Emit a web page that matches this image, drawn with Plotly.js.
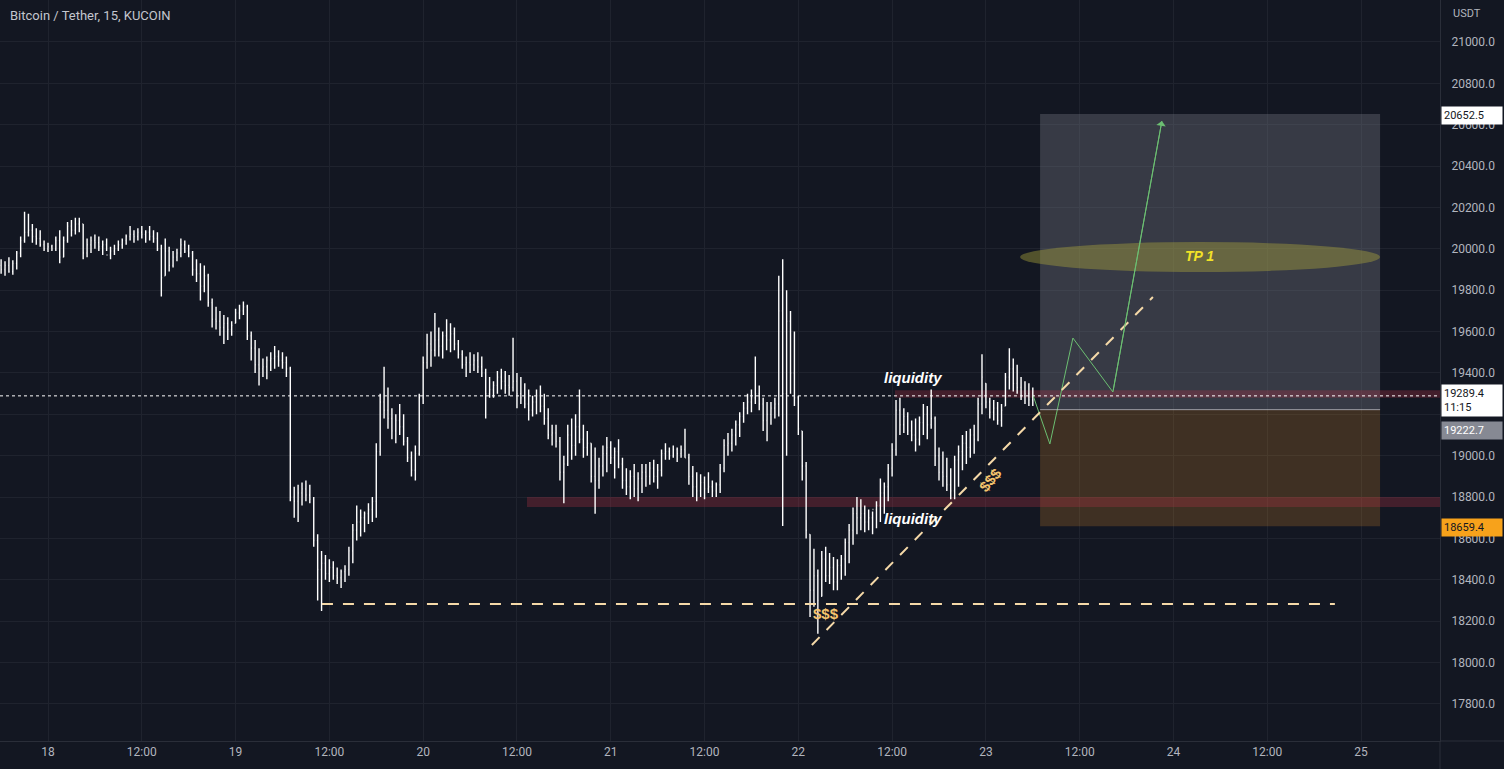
<!DOCTYPE html>
<html>
<head>
<meta charset="utf-8">
<script src="https://cdn.plot.ly/plotly-3.0.1.min.js"></script>
<style>html,body{margin:0;padding:0;background:#131722;}#chart{width:1504px;height:769px;}</style>
</head>
<body>
<div id="chart"></div>
<script>
// 30-minute bars starting 2022-10-17 18:00 (BTC/USDT, KUCOIN)
const barStartUTC = Date.UTC(2022, 9, 17, 18, 0);
const barMinutes = 30;

const highs = [
19950,19940,19960,19945,19990,20060,20180,20170,20120,20100,
20090,20040,20030,20020,20060,20090,20060,20130,20140,20150,
20150,20120,20050,20060,20070,20060,20040,20050,20010,20020,
20040,20050,20070,20110,20090,20100,20110,20090,20110,20090,
20080,20020,20050,20010,19990,20000,20050,20040,20020,19990,
19950,19930,19920,19880,19760,19720,19700,19680,19670,19650,
19710,19730,19745,19730,19600,19560,19520,19470,19480,19500,
19530,19510,19500,19480,19430,18850,18860,18870,18880,18860,
18800,18620,18540,18520,18500,18490,18460,18450,18470,18560,
18670,18760,18740,18730,18770,18800,19060,19300,19430,19330,
19230,19200,19250,19200,19090,19020,19050,19300,19480,19590,
19600,19690,19620,19600,19660,19640,19620,19560,19510,19480,
19500,19490,19500,19480,19420,19380,19360,19410,19420,19410,
19390,19570,19400,19380,19350,19320,19290,19320,19340,19300,
19230,19150,19150,19090,19000,19150,19180,19200,19320,19150,
19120,19060,19040,18990,19050,19090,19070,19040,19080,18990,
18940,18930,18960,18920,18960,18960,18970,18980,18960,19030,
19060,19040,19050,19040,19050,19130,19010,18950,18920,18910,
18900,18920,18880,18870,18960,19080,19110,19130,19170,19210,
19260,19300,19320,19480,19340,19280,19260,19260,19280,19870,
19950,19800,19700,19600,19290,19120,18970,18620,18550,18450,
18540,18560,18530,18510,18500,18520,18600,18670,18750,18800,
18790,18760,18740,18730,18780,18890,18870,18960,19060,19270,
19280,19230,19210,19170,19180,19190,19250,19240,19320,19190,
19040,19020,18990,18940,19000,19050,19100,19120,19130,19150,
19280,19490,19350,19280,19270,19260,19250,19400,19520,19470,
19440,19380,19360,19350,19330
];
const lows = [
19880,19870,19885,19875,19900,19960,20030,20060,20030,20020,
20010,19990,19985,19990,19990,19930,19960,20030,20060,20070,
20080,19950,19960,19980,20000,19990,19970,19990,19950,19970,
19990,20000,20020,20040,20030,20040,20050,20030,20040,20030,
19990,19770,19870,19890,19910,19940,19960,19980,19960,19870,
19840,19750,19790,19720,19620,19610,19580,19540,19560,19580,
19640,19660,19680,19560,19460,19400,19340,19380,19370,19410,
19420,19430,19420,19380,18780,18700,18680,18760,18780,18770,
18560,18300,18250,18400,18390,18400,18380,18360,18390,18420,
18480,18590,18610,18630,18670,18680,18700,19000,19180,19130,
19080,19060,19100,19050,18970,18900,18880,19000,19250,19420,
19430,19480,19480,19470,19510,19500,19510,19470,19420,19380,
19400,19410,19400,19380,19180,19280,19280,19300,19320,19300,
19290,19310,19230,19250,19230,19170,19190,19200,19210,19150,
19080,19050,19040,18880,18770,18950,18980,19000,19060,18990,
19000,18870,18720,18840,18900,18920,18960,18890,18940,18840,
18810,18790,18800,18780,18820,18850,18860,18870,18840,18900,
18980,18980,18990,18970,18990,18990,18860,18800,18780,18800,
18790,18820,18800,18800,18820,18920,19000,19020,19050,19090,
19160,19200,19210,19250,19220,19120,19070,19150,19180,19190,
18660,19000,19300,19240,19100,18880,18600,18220,18270,18140,
18320,18390,18380,18350,18350,18400,18420,18480,18570,18620,
18640,18630,18640,18620,18650,18680,18720,18780,18900,19000,
19100,19110,19100,19070,19020,19050,19100,19080,19130,18950,
18880,18850,18830,18790,18790,18850,18930,18960,18990,19010,
19070,19200,19230,19180,19170,19150,19140,19240,19320,19310,
19300,19270,19250,19240,19240
];
const closes = [
19900,19920,19890,19930,19980,20040,20080,20090,20060,20050,
20020,20000,20010,20000,20040,19960,20040,20110,20090,20120,
20130,19980,20020,20040,20030,20010,20020,19970,19990,20000,
20020,20040,20060,20070,20060,20080,20070,20080,20060,20050,
20000,19860,19990,19920,19960,19980,20020,19990,19980,19900,
19880,19820,19870,19740,19660,19650,19620,19640,19610,19630,
19690,19700,19720,19580,19520,19440,19420,19430,19460,19470,
19480,19460,19450,19420,18800,18780,18820,18840,18810,18790,
18590,18450,18480,18430,18460,18420,18410,18440,18450,18540,
18640,18680,18700,18720,18740,18780,19020,19260,19220,19180,
19120,19170,19140,19070,18990,18930,19010,19280,19450,19540,
19510,19560,19530,19580,19560,19590,19540,19490,19440,19450,
19440,19460,19430,19400,19300,19320,19340,19380,19360,19340,
19330,19360,19300,19280,19250,19220,19260,19290,19240,19180,
19100,19110,19070,18920,18960,19100,19050,19140,19080,19040,
19060,18900,18880,18950,19010,19040,18990,19020,18960,18880,
18850,18900,18840,18890,18920,18900,18940,18900,18930,19010,
19020,19000,19030,19010,19030,18990,18900,18850,18830,18870,
18840,18850,18830,18860,18940,19050,19060,19100,19150,19190,
19230,19260,19280,19300,19250,19170,19200,19230,19250,19700,
19300,19650,19400,19280,19130,18950,18640,18350,18420,18300,
18500,18420,18460,18390,18470,18500,18580,18640,18720,18700,
18720,18680,18700,18740,18760,18820,18850,18940,19030,19220,
19150,19190,19120,19100,19080,19160,19200,19150,19180,19000,
18920,18900,18860,18830,18980,19020,19060,19040,19100,19080,
19250,19380,19260,19210,19230,19170,19220,19380,19420,19350,
19330,19290,19300,19270,19289.4
];
const firstOpen = 19920;

// Axis ticks
const xTickDates = ['2022-10-18 00:00','2022-10-18 12:00','2022-10-19 00:00','2022-10-19 12:00','2022-10-20 00:00','2022-10-20 12:00','2022-10-21 00:00','2022-10-21 12:00','2022-10-22 00:00','2022-10-22 12:00','2022-10-23 00:00','2022-10-23 12:00','2022-10-24 00:00','2022-10-24 12:00','2022-10-25 00:00'];
const xTickLabels = ['18','12:00','19','12:00','20','12:00','21','12:00','22','12:00','23','12:00','24','12:00','25'];
const yTickValues = [17800,18000,18200,18400,18600,18800,19000,19200,19400,19600,19800,20000,20200,20400,20600,20800,21000];
// the 19200 label sits under the price tags, so it is left blank
const yTickLabels = ['17800.0','18000.0','18200.0','18400.0','18600.0','18800.0','19000.0','','19400.0','19600.0','19800.0','20000.0','20200.0','20400.0','20600.0','20800.0','21000.0'];

// Drawing levels
const lastPrice = 19289.4;
const targetPrice = 20652.5;
const entryPrice = 19222.7;
const stopPrice = 18659.4;
const lowDashLevel = 18283;
const trendLineX = ['2022-10-22 01:44', '2022-10-23 21:22'];
const trendLineY = [18085, 19767];
const projX = ['2022-10-23 06:01','2022-10-23 08:11','2022-10-23 11:08','2022-10-23 16:15','2022-10-23 22:31'];
const projY = [19293, 19057, 19569, 19308, 20618];

function fmt(ms){ return new Date(ms).toISOString().slice(0,19).replace('T',' '); }
const times = highs.map((_, i) => fmt(barStartUTC + i*barMinutes*60000));
const opens = closes.map((c, i) => {
  const prev = i === 0 ? firstOpen : closes[i-1];
  return Math.min(Math.max(prev, lows[i]), highs[i]);
});

const axisFont = {family: 'Roboto, "Liberation Sans", sans-serif', size: 12, color: '#b2b5be'};
const dashColor = '#f5d9a8';

const traces = [
  {
    type: 'ohlc', x: times, open: opens, high: highs, low: lows, close: closes,
    increasing: {line: {color: '#ffffff', width: 1.4}},
    decreasing: {line: {color: '#ffffff', width: 1.4}},
    tickwidth: 0.2, hoverinfo: 'skip', showlegend: false
  },
  {
    type: 'scatter', mode: 'lines', x: projX, y: projY,
    line: {color: '#6cbf72', width: 1}, hoverinfo: 'skip', showlegend: false
  }
];

const shapes = [
  {type:'rect', xref:'x', yref:'y', x0:'2022-10-23 06:56', x1:'2022-10-25 02:26', y0:entryPrice, y1:targetPrice,
   fillcolor:'rgba(120,123,134,0.36)', line:{width:0}, layer:'between'},
  {type:'rect', xref:'x', yref:'y', x0:'2022-10-23 06:56', x1:'2022-10-25 02:26', y0:stopPrice, y1:entryPrice,
   fillcolor:'rgba(242,148,40,0.20)', line:{width:0}, layer:'between'},
  {type:'rect', xref:'x', yref:'y', x0:'2022-10-22 12:22', x1:'2022-10-25 12:00', y0:19280, y1:19316,
   fillcolor:'rgba(180,50,70,0.30)', line:{width:0}, layer:'between'},
  {type:'rect', xref:'x', yref:'y', x0:'2022-10-20 13:17', x1:'2022-10-25 12:00', y0:18752, y1:18800,
   fillcolor:'rgba(180,50,70,0.30)', line:{width:0}, layer:'between'},
  {type:'circle', xref:'x', yref:'y', x0:'2022-10-23 04:22', x1:'2022-10-25 02:26', y0:19888, y1:20033,
   fillcolor:'rgba(170,165,60,0.42)', line:{width:0}, layer:'between'},
  {type:'line', xref:'x', yref:'y', x0:'2022-10-23 06:56', x1:'2022-10-25 02:26', y0:entryPrice, y1:entryPrice,
   line:{color:'rgba(200,202,208,0.7)', width:1}},
  {type:'line', xref:'paper', yref:'y', x0:0, x1:1, y0:lastPrice, y1:lastPrice,
   line:{color:'#ffffff', width:1, dash:'dot'}},
  {type:'line', xref:'x', yref:'y', x0:'2022-10-19 11:03', x1:'2022-10-24 20:39', y0:lowDashLevel, y1:lowDashLevel,
   line:{color:dashColor, width:2, dash:'11px,10px'}},
  {type:'line', xref:'x', yref:'y', x0:trendLineX[0], x1:trendLineX[1], y0:trendLineY[0], y1:trendLineY[1],
   line:{color:dashColor, width:2, dash:'11px,10px'}},
  {type:'line', xref:'paper', yref:'paper', x0:1, x1:1504/1440, y0:0, y1:0, line:{color:'#2a2e39', width:1}},
  {type:'line', xref:'paper', yref:'paper', x0:1, x1:1, y0:0, y1:-28/741, line:{color:'#2a2e39', width:1}}
];

const tagFont = {family:'Roboto, "Liberation Sans", sans-serif', size:11};
const annotations = [
  {xref:'paper', yref:'paper', x:8/1440, y:1-16/741, xanchor:'left', yanchor:'middle', showarrow:false,
   text:'Bitcoin / Tether, 15, KUCOIN', font:{family:'Roboto, "Liberation Sans", sans-serif', size:13, color:'#c3c6ce'}},
  {xref:'paper', yref:'paper', x:1451/1440, y:1-14/741, xanchor:'left', yanchor:'middle', showarrow:false,
   text:'USDT', font:{family:'Roboto, "Liberation Sans", sans-serif', size:11, color:'#b2b5be'}},
  {xref:'paper', yref:'y', x:1441/1440, y:20647, xanchor:'left', yanchor:'middle', showarrow:false, align:'left',
   text:'20652.5', bgcolor:'#ffffff', width:56, borderpad:2, font:Object.assign({color:'#131722'}, tagFont)},
  {xref:'paper', yref:'y', x:1441/1440, y:19266, xanchor:'left', yanchor:'middle', showarrow:false, align:'left',
   text:'19289.4<br>11:15', bgcolor:'#ffffff', width:56, borderpad:2, font:Object.assign({color:'#131722'}, tagFont)},
  {xref:'paper', yref:'y', x:1441/1440, y:19122, xanchor:'left', yanchor:'middle', showarrow:false, align:'left',
   text:'19222.7', bgcolor:'#868993', width:56, borderpad:2, font:Object.assign({color:'#ffffff'}, tagFont)},
  {xref:'paper', yref:'y', x:1441/1440, y:18655, xanchor:'left', yanchor:'middle', showarrow:false, align:'left',
   text:'18659.4', bgcolor:'#f7a21b', width:56, borderpad:2, font:Object.assign({color:'#131722'}, tagFont)},
  {xref:'x', yref:'y', x:'2022-10-22 14:41', y:19376, showarrow:false, text:'<b><i>liquidity</i></b>',
   font:{family:'"Liberation Sans", Arial, sans-serif', size:15, color:'#ffffff'}},
  {xref:'x', yref:'y', x:'2022-10-22 14:41', y:18699, showarrow:false, text:'<b><i>liquidity</i></b>',
   font:{family:'"Liberation Sans", Arial, sans-serif', size:15, color:'#ffffff'}},
  {xref:'x', yref:'y', x:'2022-10-22 03:33', y:18235, showarrow:false, text:'<b>$$$</b>',
   font:{family:'"Liberation Sans", Arial, sans-serif', size:15, color:'#f5c46e'}},
  {xref:'x', yref:'y', x:'2022-10-23 00:32', y:18887, showarrow:false, text:'<b>$$$</b>', textangle:-50,
   font:{family:'"Liberation Sans", Arial, sans-serif', size:15, color:'#f5c46e'}},
  {xref:'x', yref:'y', x:'2022-10-24 03:16', y:19966, showarrow:false, text:'<b><i>TP 1</i></b>',
   font:{family:'"Liberation Sans", Arial, sans-serif', size:14, color:'#f2e227'}},
  {xref:'x', yref:'y', axref:'x', ayref:'y', x:projX[4], y:projY[4], ax:projX[3], ay:projY[3], text:'',
   showarrow:true, arrowhead:1, arrowsize:1.6, arrowwidth:1, arrowcolor:'#6cbf72'}
];

const layout = {
  width:1504, height:769,
  margin:{l:0, r:64, t:0, b:28, pad:0},
  paper_bgcolor:'#131722', plot_bgcolor:'#131722',
  showlegend:false, hovermode:false, dragmode:false,
  xaxis:{
    type:'date', range:['2022-10-17 17:51:30','2022-10-25 10:06:00'],
    tickmode:'array', tickvals:xTickDates, ticktext:xTickLabels,
    showgrid:true, gridcolor:'#1f232e', gridwidth:1, zeroline:false,
    showline:true, linecolor:'#2a2e39', ticks:'', tickfont:axisFont,
    rangeslider:{visible:false}, fixedrange:true
  },
  yaxis:{
    side:'right', range:[17621, 21203],
    tickmode:'array', tickvals:yTickValues, ticktext:yTickLabels,
    showgrid:true, gridcolor:'#1f232e', gridwidth:1, zeroline:false,
    showline:true, linecolor:'#2a2e39', ticks:'', tickfont:axisFont, ticklabelstandoff:8,
    fixedrange:true
  },
  shapes:shapes,
  annotations:annotations
};

Plotly.newPlot('chart', traces, layout, {displayModeBar:false, staticPlot:true});
</script>
</body>
</html>
